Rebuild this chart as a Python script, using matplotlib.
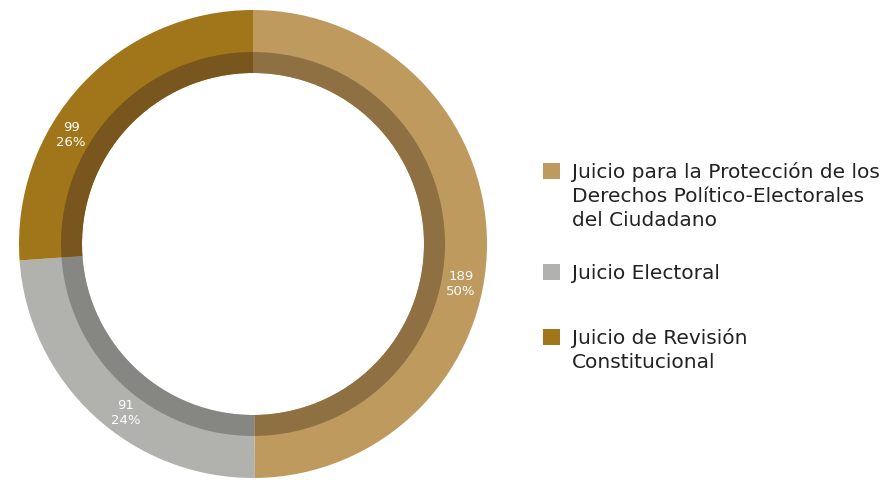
import numpy as np
import matplotlib
matplotlib.use('Agg')
import matplotlib.pyplot as plt

# Datos
categorias = ['Juicio para la Protección de los\nDerechos Político-Electorales\ndel Ciudadano',
              'Juicio Electoral',
              'Juicio de Revisión\nConstitucional']
valores = [189, 91, 99]
porcentajes = ['50%', '24%', '26%']
colores = ['#BE9A5F', '#B1B1AD', '#A1761A']
colores_oscuros = ['#8E7043', '#868782', '#79561D']

W, H = 882, 480
fig = plt.figure(figsize=(W / 100, H / 100), dpi=100)
plt.rcParams['font.family'] = ['DejaVu Sans']

# Donut: centro (253, 244) px, radio exterior 234 px
cx, cy, R = 253, 244, 234
half = 240
ax = fig.add_axes([(cx - half) / W, (H - cy - half) / H, 2 * half / W, 2 * half / H])
ax.set_aspect('equal')
ax.axis('off')

ax.pie(valores, colors=colores, startangle=90, counterclock=False, radius=1,
       wedgeprops=dict(width=63 / R, linewidth=0))
ax.pie(valores, colors=colores_oscuros, startangle=90, counterclock=False, radius=192 / R,
       wedgeprops=dict(width=21 / R, linewidth=0))
ax.set_xlim(-half / R, half / R)
ax.set_ylim(-half / R, half / R)

# Etiquetas sobre el anillo
total = sum(valores)
ajuste = [-11.2, 5.7, 12.0]  # desplazamiento angular de cada etiqueta
acum = 0
for v, p, d in zip(valores, porcentajes, ajuste):
    mid = 90 - (acum + v / 2) / total * 360
    acum += v
    ang = np.deg2rad(mid + d)
    r = 212 / R
    ax.text(r * np.cos(ang), r * np.sin(ang), f'{v}\n{p}', color='white',
            fontsize=9.5, ha='center', va='center', linespacing=1.2)

# Leyenda manual
x_sq, x_txt = 543, 572
baselines = [178, 279, 344]
paso = 24
for lab, col, yb in zip(categorias, colores, baselines):
    fig.patches.append(plt.Rectangle((x_sq / W, (H - yb - 1) / H), 17 / W, 16 / H,
                                     transform=fig.transFigure, color=col, lw=0))
    for i, linea in enumerate(lab.split('\n')):
        fig.text(x_txt / W, (H - yb - i * paso) / H, linea, fontsize=14.5,
                 color='#222222', ha='left', va='baseline')

plt.savefig('out.png', dpi=100)
plt.close()
